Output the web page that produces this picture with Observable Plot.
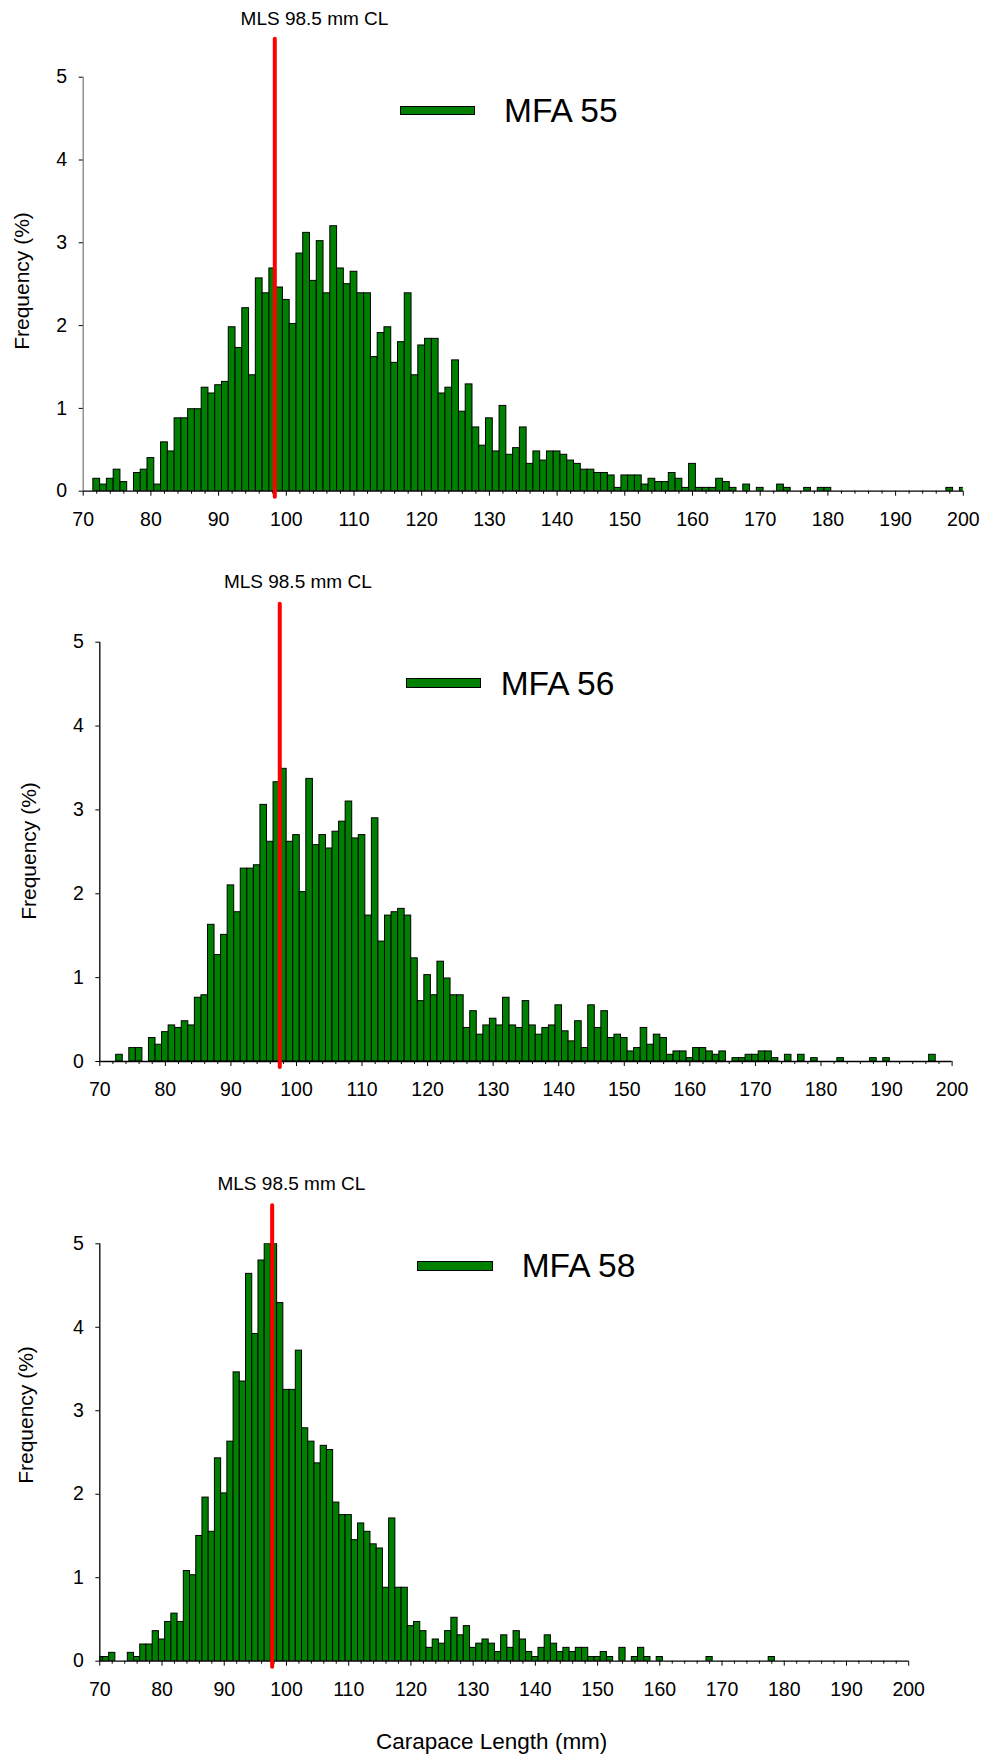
<!DOCTYPE html>
<html>
<head>
<meta charset="utf-8">
<script src="https://cdn.jsdelivr.net/npm/d3@7"></script>
<script src="https://cdn.jsdelivr.net/npm/@observablehq/plot@0.6"></script>
<style>
  html, body { margin: 0; padding: 0; background: #fff; }
  #page { position: relative; width: 982px; height: 1757px; overflow: hidden;
          font-family: "Liberation Sans", Arial, sans-serif; color: #000; }
  .panel { position: absolute; left: 0; }
  .abs { position: absolute; white-space: nowrap; line-height: 1; }
  .swatch { position: absolute; box-sizing: border-box; background: #008000; border: 1px solid #000; }
</style>
</head>
<body>
<div id="page"></div>
<script>
// ---------- data (percent frequency per 1 mm carapace-length class) ----------
const start55 = 72;
const freq55 = [
  0.15, 0.08, 0.15, 0.26, 0.11, 0, 0.22, 0.26, 0.40, 0.08,      // 72-81
  0.59, 0.48, 0.88, 0.88, 0.99, 0.99, 1.25, 1.18, 1.28, 1.32,   // 82-91
  1.98, 1.73, 2.21, 1.40, 2.57, 2.39, 2.69, 2.46, 2.31, 2.02,   // 92-101
  2.87, 3.12, 2.54, 3.02, 2.39, 3.20, 2.69, 2.50, 2.65, 2.39,   // 102-111
  2.39, 1.62, 1.91, 1.98, 1.55, 1.80, 2.39, 1.40, 1.76, 1.84,   // 112-121
  1.84, 1.18, 1.25, 1.58, 0.96, 1.29, 0.77, 0.55, 0.88, 0.48,   // 122-131
  1.03, 0.44, 0.52, 0.77, 0.33, 0.48, 0.37, 0.48, 0.48, 0.44,   // 132-141
  0.37, 0.33, 0.26, 0.26, 0.22, 0.22, 0.19, 0.04, 0.19, 0.19,   // 142-151
  0.19, 0.08, 0.15, 0.11, 0.11, 0.22, 0.15, 0.04, 0.33, 0.04,   // 152-161
  0.04, 0.04, 0.15, 0.11, 0.04, 0, 0.08, 0, 0.04, 0,            // 162-171
  0, 0.08, 0.04, 0, 0, 0.04, 0, 0.04, 0.04, 0,                  // 172-181
  0, 0, 0, 0, 0, 0, 0, 0, 0, 0,                                 // 182-191
  0, 0, 0, 0, 0, 0, 0.04, 0, 0.04                               // 192-200
];

const start56 = 73;
const freq56 = [
  0.08, 0, 0.16, 0.16, 0, 0.28, 0.20, 0.35, 0.43, 0.40,         // 73-82
  0.48, 0.43, 0.76, 0.79, 1.63, 1.27, 1.51, 2.10, 1.78, 2.30,   // 83-92
  2.30, 2.34, 3.06, 2.62, 3.33, 3.49, 2.62, 2.70, 2.02, 3.37,   // 93-102
  2.58, 2.70, 2.54, 2.74, 2.86, 3.10, 2.66, 2.70, 1.74, 2.90,   // 103-112
  1.43, 1.74, 1.78, 1.82, 1.74, 1.23, 0.72, 1.03, 0.79, 1.19,   // 113-122
  0.99, 0.79, 0.79, 0.40, 0.60, 0.32, 0.43, 0.51, 0.43, 0.76,   // 123-132
  0.43, 0.40, 0.72, 0.43, 0.32, 0.40, 0.43, 0.67, 0.36, 0.24,   // 133-142
  0.48, 0.16, 0.67, 0.40, 0.60, 0.28, 0.32, 0.28, 0.12, 0.16,   // 143-152
  0.40, 0.20, 0.32, 0.28, 0.08, 0.12, 0.12, 0.04, 0.16, 0.16,   // 153-162
  0.12, 0.08, 0.12, 0, 0.04, 0.04, 0.08, 0.08, 0.12, 0.12,      // 163-172
  0.04, 0, 0.08, 0, 0.08, 0, 0.04, 0, 0, 0,                     // 173-182
  0.04, 0, 0, 0, 0, 0.04, 0, 0.04, 0, 0,                        // 183-192
  0, 0, 0, 0, 0.08                                              // 193-197
];

const start58 = 70;
const freq58 = [
  0.05, 0.05, 0.10, 0, 0, 0.10, 0.05, 0.20, 0.20, 0.36,         // 70-79
  0.26, 0.47, 0.57, 0.47, 1.08, 1.03, 1.50, 1.96, 1.55, 2.43,   // 80-89
  2.01, 2.63, 3.46, 3.35, 4.64, 3.92, 4.80, 5.00, 5.00, 4.29,   // 90-99
  3.25, 3.25, 3.72, 2.79, 2.63, 2.37, 2.58, 2.53, 1.90, 1.75,   // 100-109
  1.75, 1.45, 1.65, 1.55, 1.40, 1.35, 0.88, 1.71, 0.88, 0.88,   // 110-119
  0.42, 0.47, 0.36, 0.16, 0.26, 0.21, 0.36, 0.52, 0.31, 0.42,   // 120-129
  0.16, 0.21, 0.26, 0.21, 0.11, 0.31, 0.16, 0.36, 0.26, 0.11,   // 130-139
  0.05, 0.16, 0.31, 0.21, 0.11, 0.16, 0.11, 0.16, 0.16, 0.05,   // 140-149
  0.05, 0.11, 0.05, 0, 0.16, 0, 0.05, 0.16, 0.05, 0,            // 150-159
  0.05, 0, 0, 0, 0, 0, 0, 0, 0.05, 0,                           // 160-169
  0, 0, 0, 0, 0, 0, 0, 0, 0.05                                  // 170-178
];

const xTicks = [70, 80, 90, 100, 110, 120, 130, 140, 150, 160, 170, 180, 190, 200];
const xMinorTicks = [72, 74, 76, 78, 82, 84, 86, 88, 92, 94, 96, 98, 102, 104, 106, 108,
  112, 114, 116, 118, 122, 124, 126, 128, 132, 134, 136, 138, 142, 144, 146, 148,
  152, 154, 156, 158, 162, 164, 166, 168, 172, 174, 176, 178, 182, 184, 186, 188,
  192, 194, 196, 198];
const yTicks = [0, 1, 2, 3, 4, 5];
const seriesNames = ["MFA 55", "MFA 56", "MFA 58"];
const mlsLabel = "MLS 98.5 mm CL";
const mlsDrawnAt = [98.3, 97.45, 97.7];   // where the red line sits in each panel
const yTitle = "Frequency (%)";
const xTitle = "Carapace Length (mm)";

// ---------- layout ----------
const FONT = '"Liberation Sans", Arial, sans-serif';
const W = 982;
const layout = [
  { starts: start55, values: freq55, top: 0,    height: 560, mt: 76.7,  mb: 69.3, ml: 82.7, mr: 19.2, yAxisColor: "#808080",
    mlsText: [314.5, 25], swatch: [400, 105.7, 75, 9.6], legendText: [504, 122.7], yTitlePos: [21, 281] },
  { starts: start56, values: freq56, top: 560,  height: 560, mt: 81.7,  mb: 59,   ml: 99.3, mr: 30.4, yAxisColor: "#000",
    mlsText: [297.8, 588.3], swatch: [405.7, 678, 75.5, 10], legendText: [500.7, 695], yTitlePos: [28, 851] },
  { starts: start58, values: freq58, top: 1120, height: 637, mt: 123.3, mb: 96.3, ml: 99.3, mr: 73.8, yAxisColor: "#000",
    mlsText: [291.4, 1190], swatch: [417, 1260.7, 76, 10], legendText: [521.7, 1277.3], yTitlePos: [25, 1415] }
];

const page = document.getElementById("page");

function addText(str, x, baseline, fs, anchor) {
  const d = document.createElement("div");
  d.className = "abs";
  d.textContent = str;
  d.style.fontSize = fs + "px";
  d.style.left = x + "px";
  d.style.top = (baseline - 0.8465 * fs) + "px";
  if (anchor === "middle") d.style.transform = "translateX(-50%)";
  page.appendChild(d);
  return d;
}

layout.forEach((p, i) => {
  const bars = p.values.map((v, k) => ({ len: p.starts + k, v })).filter(d => d.v > 0);
  const svg = Plot.plot({
    width: W,
    height: p.height,
    marginTop: p.mt,
    marginBottom: p.mb,
    marginLeft: p.ml,
    marginRight: p.mr,
    style: { fontFamily: FONT, fontSize: "19.5px", background: "transparent", overflow: "visible", color: "#000" },
    x: { domain: [70, 200], axis: null },
    y: { domain: [0, 5], axis: null },
    marks: [
      Plot.rect(bars, {
        x1: d => d.len - 0.5, x2: d => d.len + 0.5, y1: 0, y2: "v",
        fill: "#008000", stroke: "#000", strokeWidth: 1, clip: true
      }),
      Plot.ruleY([0], { stroke: "#000", strokeWidth: 1.3 }),
      Plot.ruleX([70], { stroke: p.yAxisColor, strokeWidth: 1.3 }),
      Plot.axisX({ ticks: xMinorTicks, tickSize: 3, tickFormat: () => "", label: null, stroke: "#000" }),
      Plot.axisX({ ticks: xTicks, tickSize: 5, tickPadding: 16, tickFormat: d => String(d), label: null, fontSize: 19.5 }),
      Plot.axisY({ ticks: yTicks, tickSize: 4, tickPadding: 12, tickFormat: d => String(d), label: null, fontSize: 19.5 }),
      Plot.ruleX([mlsDrawnAt[i]], {
        stroke: "#ff0000", strokeWidth: 4, strokeLinecap: "round",
        insetTop: -38, insetBottom: -6
      })
    ]
  });
  const wrap = document.createElement("div");
  wrap.className = "panel";
  wrap.style.top = p.top + "px";
  wrap.appendChild(svg);
  page.appendChild(wrap);

  // MLS annotation
  addText(mlsLabel, p.mlsText[0], p.mlsText[1], 19, "middle");

  // legend
  const sw = document.createElement("div");
  sw.className = "swatch";
  sw.style.left = p.swatch[0] + "px";
  sw.style.top = p.swatch[1] + "px";
  sw.style.width = p.swatch[2] + "px";
  sw.style.height = p.swatch[3] + "px";
  page.appendChild(sw);
  addText(seriesNames[i], p.legendText[0], p.legendText[1], 33.5);

  // y title (rotated)
  const yt = document.createElement("div");
  yt.className = "abs";
  yt.textContent = yTitle;
  yt.style.fontSize = "21px";
  yt.style.left = p.yTitlePos[0] + "px";
  yt.style.top = p.yTitlePos[1] + "px";
  yt.style.transform = "translate(-50%, -50%) rotate(-90deg)";
  page.appendChild(yt);
});

addText(xTitle, 491.7, 1750, 22.5, "middle");
</script>
</body>
</html>
